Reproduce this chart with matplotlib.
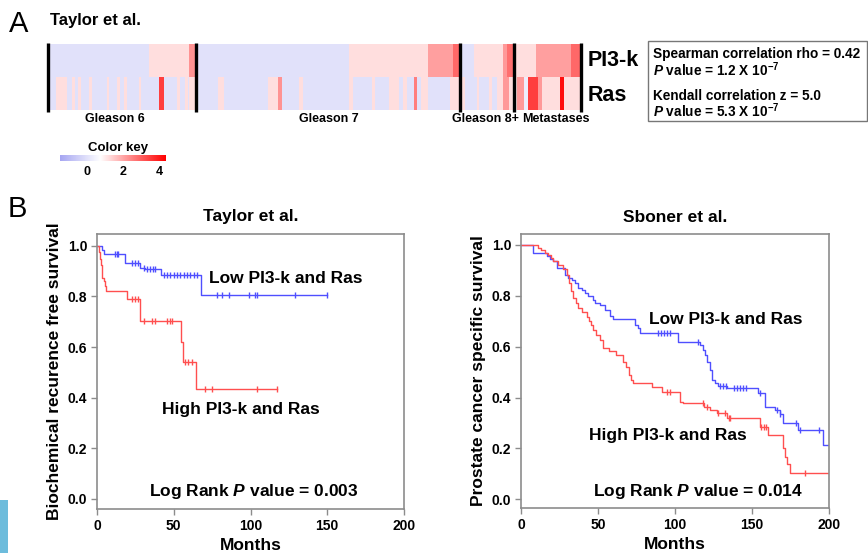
#!/usr/bin/env python3
import numpy as np
import matplotlib
matplotlib.use("Agg")
import matplotlib.pyplot as plt
from matplotlib.colors import LinearSegmentedColormap
from matplotlib.patches import Rectangle

plt.rcParams['font.family'] = ['Liberation Sans', 'DejaVu Sans']
plt.rcParams['font.weight'] = 'bold'
plt.rcParams['axes.titleweight'] = 'bold'
plt.rcParams['axes.labelweight'] = 'bold'
plt.rcParams['mathtext.fontset'] = 'custom'
plt.rcParams['mathtext.rm'] = 'Liberation Sans:bold'
plt.rcParams['mathtext.bf'] = 'Liberation Sans:bold'
plt.rcParams['mathtext.it'] = 'Liberation Sans:italic:bold'

# ---- panel A: heatmap (run lengths = samples, values = expression score)
group_names = ['Gleason 6', 'Gleason 7', 'Gleason 8+', 'Metastases']
group_sizes = [148, 264, 54, 67]

pi3k_lengths = [101, 40, 7, 153, 79, 25, 7, 14, 29, 4, 7, 22, 35, 10]
pi3k_values = [0, 1.2, 2.3, 0, 1.2, 2.1, 2.9, 0, 1.2, 2.2, 2.8, 1.2, 2.1, 2.9]

ras_lengths = [8, 11, 5, 3, 3, 3, 8, 3, 15, 2, 8, 3, 4, 3, 12, 2, 18, 5, 13, 3, 5, 3, 1, 7,
               22, 6, 44, 10, 4, 17, 4, 46, 4, 19, 3, 14, 10, 4, 4, 7, 3, 4, 7, 22, 10,
               5, 12, 2, 10, 3, 5, 6, 6, 5,
               3, 7, 4, 10, 4, 18, 4, 17]
ras_values = [0, 1.2, 0, 1.2, 0, 1.2, 0, 1.2, 0, 1.2, 0, 1.2, 0, 1.2, 0, 1.2, 0, 3.5, 0, 1.2, 0, 1.2, 0, 1.2,
              0, 1.2, 0, 1.2, 2.3, 0, 1.2, 0, 1.2, 0, 1.2, 0, 1.2, 0, 1.2, 0, 2.6, 0, 1.2, 0, 1.2,
              1.2, 0, 1.2, 0, 1.2, 0, 1.2, 2.2, 1.2,
              1.2, 2.2, 0.3, 3.5, 2.2, 1.2, 4.2, 1.2]

key_ticks = [0, 2, 4]
key_min, key_max = -1.5, 4.4

# ---- panel B: Kaplan-Meier curves (event times in months, survival after step)
taylor_low_t = [0, 3, 4.5, 18.5, 28, 31, 41.5, 68]
taylor_low_s = [1.0, 0.985, 0.968, 0.931, 0.914, 0.908, 0.885, 0.805]
taylor_low_end = 150
taylor_low_cens = [12, 13, 14, 22.8, 24.9, 27, 30.3, 32.5, 34.7, 36.8, 38, 43.4, 45.5, 47.7,
                   49.9, 52, 54.2, 56.4, 58.5, 60.7, 62.9, 65, 78, 81.4, 85.7, 98.7, 103,
                   104.5, 129, 150]

taylor_high_t = [0, 1.5, 2, 2.5, 3, 3.5, 4.3, 5, 6, 19.5, 28, 54.5, 56, 64.5]
taylor_high_s = [1.0, 0.975, 0.95, 0.925, 0.9, 0.875, 0.86, 0.84, 0.82, 0.789, 0.705, 0.622,
                 0.543, 0.434]
taylor_high_end = 117
taylor_high_cens = [22.8, 24.9, 26.4, 30.3, 35.8, 37.9, 45.5, 47.7, 48.8, 57.5, 59.6, 61.8,
                    70.6, 74.9, 104, 117]

sboner_low_t = [0, 8, 16.7, 18.8, 20.8, 23.2, 28.6, 30.5, 33, 35, 37, 39.6, 41.6, 43.5, 46.8,
                48, 51.3, 54.5, 57.8, 59.7, 74, 76, 77.3, 102, 116, 118, 119.5, 121, 122.7,
                124, 126, 128, 133.5, 154, 158.4, 165, 168, 170, 180, 196]
sboner_low_s = [1.0, 0.967, 0.957, 0.945, 0.935, 0.909, 0.88, 0.87, 0.862, 0.85, 0.83, 0.823,
                0.81, 0.80, 0.785, 0.77, 0.765, 0.745, 0.72, 0.71, 0.686, 0.674, 0.653, 0.62,
                0.607, 0.587, 0.568, 0.54, 0.51, 0.47, 0.456, 0.445, 0.437, 0.417, 0.364,
                0.351, 0.335, 0.299, 0.272, 0.213]
sboner_low_end = 200
sboner_low_cens = [89, 91, 93, 95, 97, 115, 129, 131, 133, 138, 140, 142, 144, 146, 155, 166,
                   168, 178.5, 181, 193.7]

sboner_high_t = [0, 11.2, 13, 15.6, 17.5, 19.5, 20.8, 23.8, 27.5, 29.7, 31, 32.5, 34, 35.5,
                 37.2, 39.5, 42.6, 44, 45.5, 47, 49, 51, 53.5, 57, 62, 66.4, 68, 70, 71.5, 73,
                 85, 91.4, 103, 105.4, 119, 123, 127, 134, 155, 160.6, 170, 171.5, 173, 174.7]
sboner_high_s = [1.0, 0.988, 0.98, 0.97, 0.96, 0.95, 0.935, 0.92, 0.905, 0.88, 0.85, 0.82,
                 0.79, 0.77, 0.751, 0.735, 0.718, 0.70, 0.685, 0.666, 0.645, 0.625, 0.594,
                 0.585, 0.567, 0.541, 0.52, 0.49, 0.47, 0.456, 0.443, 0.423, 0.384, 0.377,
                 0.364, 0.351, 0.338, 0.318, 0.285, 0.253, 0.2, 0.168, 0.14, 0.105]
sboner_high_end = 200
sboner_high_cens = [94.6, 96.8, 118, 120.5, 127.6, 132.6, 134.8, 136, 156, 157.5, 159, 184.4]

BLUE = '#4f4fff'
RED = '#ff4f4f'
W, H = 868, 553


def fx(x):
    return x / W


def fy(y):
    return 1 - y / H


fig = plt.figure(figsize=(W / 100, H / 100), dpi=100)

cmap = LinearSegmentedColormap.from_list(
    'key', [(0, '#a6a6f2'), (0.38, '#ffffff'), (1, '#ff0000')])

# heatmap
hm = fig.add_axes([fx(48), fy(110), fx(533), 66 / H])
row_pi3k = np.repeat(pi3k_values, pi3k_lengths)
row_ras = np.repeat(ras_values, ras_lengths)
grid = np.vstack([row_pi3k, row_ras])
n = grid.shape[1]
hm.imshow(grid, cmap=cmap, vmin=key_min, vmax=key_max, aspect='auto',
          interpolation='nearest', extent=(0, n, 2, 0))
hm.set_xlim(0, n)
hm.set_ylim(2, 0)
hm.axis('off')
bounds = np.concatenate([[0], np.cumsum(group_sizes)])
hm.vlines(bounds, -0.02, 2.06, colors='black', lw=2.4, clip_on=False)
# label offsets from group centre, in samples
label_shift = [-7, 1, -2, 8]
for name, lo, hi, sh in zip(group_names, bounds[:-1], bounds[1:], label_shift):
    hm.text((lo + hi) / 2 + sh, 2.27, name, ha='center', va='center', fontsize=9)
hm.text(n + 7, 0.5, 'PI3-k', ha='left', va='center', fontsize=15.5)
hm.text(n + 7, 1.55, 'Ras', ha='left', va='center', fontsize=15.5)

fig.text(fx(9), fy(24), 'A', fontsize=21, fontweight='normal', ha='left', va='center')
fig.text(fx(50), fy(21), 'Taylor et al.', fontsize=12, ha='left', va='center')

# color key
ck = fig.add_axes([fx(60), fy(161), fx(106), 6 / H])
ck.imshow(np.linspace(key_min, key_max, 256)[None, :], cmap=cmap, vmin=key_min,
          vmax=key_max, aspect='auto', extent=(key_min, key_max, 0, 1))
ck.set_xlim(key_min, key_max)
ck.axis('off')
for t in key_ticks:
    ck.text(t, -0.9, str(t), ha='center', va='top', fontsize=9)
fig.text(fx(118), fy(148), 'Color key', ha='center', va='center', fontsize=9.5)

# stats box
fig.patches.append(Rectangle((fx(648), fy(121)), fx(219), 80 / H, transform=fig.transFigure,
                             fill=False, edgecolor='#777777', lw=1))
stats = ['Spearman correlation rho = 0.42', r'$\mathit{P}$ value = 1.2 X 10$^{-7}$',
         'Kendall correlation z = 5.0', r'$\mathit{P}$ value = 5.3 X 10$^{-7}$']
for txt, yy in zip(stats, [54, 70, 96, 111]):
    fig.text(fx(653), fy(yy), txt, ha='left', va='center', fontsize=9.8)

fig.text(fx(8), fy(209), 'B', fontsize=21, fontweight='normal', ha='left', va='center')
fig.patches.append(Rectangle((0, 0), fx(8), 53 / H, transform=fig.transFigure,
                             facecolor='#6dbcdc', edgecolor='none'))


def km(ax, t, s, end, cens, color):
    tt = list(t) + [end]
    ss = list(s) + [s[-1]]
    ax.step(tt, ss, where='post', color=color, lw=1.0)
    idx = np.searchsorted(t, cens, side='right') - 1
    ax.plot(cens, np.array(s)[idx], ls='none', marker='|', ms=5, mew=1, color=color)


def style(ax, title, ylabel, ylim):
    ax.set_xlim(0, 200)
    ax.set_ylim(*ylim)
    ax.set_xticks([0, 50, 100, 150, 200])
    ax.set_yticks([0.0, 0.2, 0.4, 0.6, 0.8, 1.0])
    ax.set_yticklabels(['0.0', '0.2', '0.4', '0.6', '0.8', '1.0'])
    for lab in ax.get_xticklabels() + ax.get_yticklabels():
        lab.set_fontweight('bold')
    for sp in ax.spines.values():
        sp.set_color('#8c8c8c')
        sp.set_linewidth(1.2)
    ax.tick_params(direction='out', length=4, width=1, color='#8c8c8c', labelsize=10, pad=3)
    ax.set_title(title, fontsize=12.5, pad=9)
    ax.set_ylabel(ylabel, fontsize=12.5, labelpad=4)
    ax.set_xlabel('Months', fontsize=12.5, labelpad=4)


ax1 = fig.add_axes([fx(97), fy(509), fx(307), 275 / H])
km(ax1, taylor_low_t, taylor_low_s, taylor_low_end, taylor_low_cens, BLUE)
km(ax1, taylor_high_t, taylor_high_s, taylor_high_end, taylor_high_cens, RED)
style(ax1, 'Taylor et al.', 'Biochemical recurence free survival', (-0.04, 1.047))
ax1.text(123, 0.873, 'Low PI3-k and Ras', ha='center', va='center', fontsize=12.5)
ax1.text(94, 0.352, 'High PI3-k and Ras', ha='center', va='center', fontsize=12.5)
ax1.text(102, 0.03, r'Log Rank $\mathit{P}$ value = 0.003', ha='center', va='center',
         fontsize=12.5)

ax2 = fig.add_axes([fx(521), fy(508), fx(308), 274 / H])
km(ax2, sboner_low_t, sboner_low_s, sboner_low_end, sboner_low_cens, BLUE)
km(ax2, sboner_high_t, sboner_high_s, sboner_high_end, sboner_high_cens, RED)
style(ax2, 'Sboner et al.', 'Prostate cancer specific survival', (-0.034, 1.043))
ax2.text(133, 0.708, 'Low PI3-k and Ras', ha='center', va='center', fontsize=12.5)
ax2.text(95.5, 0.25, 'High PI3-k and Ras', ha='center', va='center', fontsize=12.5)
ax2.text(114.6, 0.03, r'Log Rank $\mathit{P}$ value = 0.014', ha='center', va='center',
         fontsize=12.5)

fig.savefig('out.png', dpi=100)
